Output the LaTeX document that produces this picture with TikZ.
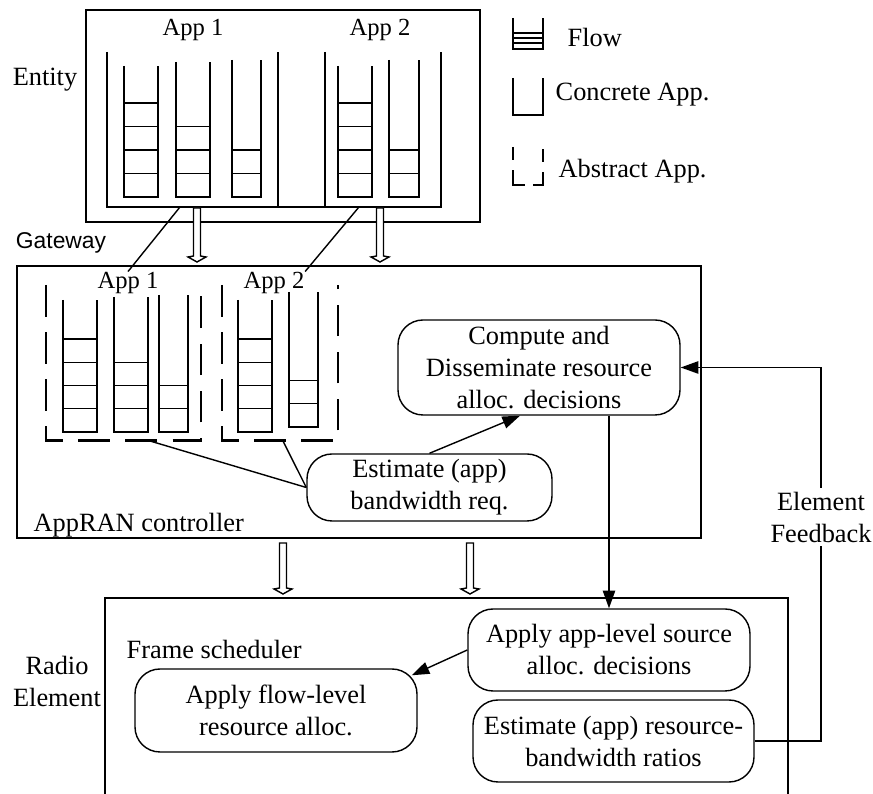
\documentclass[tikz,border=0pt]{standalone}
\usepackage{fontspec}
\setmainfont{Liberation Serif}
\newfontfamily\gwfont{Liberation Sans}
\usetikzlibrary{arrows.meta,calc}
\tikzstyle{box} = [draw, inner sep=0pt]
\tikzstyle{block} = [draw, rounded corners=0.5cm, align=center, inner sep=2pt]
\tikzstyle{tag} = [inner sep=0pt, align=center]
\tikzstyle{applabel} = [inner sep=0pt, font=\fontsize{14}{17}\selectfont]
\tikzstyle{diredge} = [draw, -{Triangle[length=10pt,width=7pt]}]
\tikzstyle{undirectededge} = [draw]
\tikzstyle{abstract} = [draw, line width=1.7pt, dash pattern=on 18pt off 8.8pt]
\tikzstyle{hollow} = [draw, fill=white]

\begin{document}
\begin{tikzpicture}[line width=0.8pt, font=\fontsize{15}{18.2}\selectfont]
    \useasboundingbox (0,0) rectangle (17.46,15.88);

    % Entity with its concrete apps
    \node[box, minimum width=7.88cm, minimum height=4.24cm] (entity) at (5.66,13.56) {};
    \node[tag] (entlabel) at (0.9,14.28) {Entity};
    \node[applabel] (eapp1) at (3.86,15.28) {App 1};
    \node[applabel] (eapp2) at (7.6,15.28) {App 2};
    \foreach \xl/\xr in {2.14/5.56, 6.5/8.82}
        \draw (\xl,14.84) -- (\xl,11.74) -- (\xr,11.74) -- (\xr,14.84);
    \draw (5.56,11.74) -- (6.5,11.74);
    \foreach \xl/\xr/\yt/\n in {2.48/3.16/14.56/4, 3.52/4.2/14.64/3, 4.64/5.22/14.68/2,
                               6.76/7.44/14.56/4, 7.78/8.38/14.68/2} {
        \draw (\xl,\yt) -- (\xl,11.94) -- (\xr,11.94) -- (\xr,\yt);
        \foreach \k in {1,...,\n}
            \draw (\xl,11.94+\k*0.47) -- (\xr,11.94+\k*0.47);
    }
    \coordinate (eout1) at (3.6,11.74);
    \coordinate (eout2) at (7.18,11.74);

    % Legend
    \draw (10.26,15.52) -- (10.26,14.9) -- (10.86,14.9) -- (10.86,15.52);
    \foreach \y in {15.02,15.12,15.22}
        \draw (10.26,\y) -- (10.86,\y);
    \node[tag, anchor=base west] (lflow) at (11.34,14.94) {Flow};
    \draw (10.26,14.32) -- (10.26,13.58) -- (10.86,13.58) -- (10.86,14.32);
    \node[tag, anchor=base west] (lconc) at (11.1,13.86) {Concrete App.};
    \draw[line width=1.5pt, dash pattern=on 7.4pt off 5.7pt on 15.4pt off 4.6pt on 13.1pt off 5.7pt on 7.4pt off 5pt]
        (10.26,12.94) -- (10.26,12.18) -- (10.86,12.18) -- (10.86,12.94);
    \node[tag, anchor=base west] (labs) at (11.16,12.32) {Abstract App.};

    % Gateway with the AppRAN controller
    \node[box, minimum width=13.68cm, minimum height=5.44cm] (gateway) at (7.18,7.84) {};
    \node[tag, font=\gwfont\fontsize{13}{16}\selectfont] (gwlabel) at (1.22,11.02) {Gateway};
    \node[tag, anchor=base west] (ctrl) at (0.66,5.24) {AppRAN controller};
    \node[applabel] (gapp1) at (2.56,10.22) {App 1};
    \node[applabel] (gapp2) at (5.48,10.22) {App 2};
    \foreach \xl/\xr in {0.92/4.02, 4.44/6.76}
        \path[abstract] (\xl,10.18) -- (\xl,7.06) -- (\xr,7.06) -- (\xr,10.18);
    \foreach \xl/\xr/\yb/\yt/\n in {1.26/1.94/7.24/9.88/4, 2.28/2.96/7.24/9.94/3, 3.18/3.76/7.24/9.98/2,
                                   4.76/5.44/7.24/9.88/4, 5.78/6.36/7.34/10.04/2} {
        \draw (\xl,\yt) -- (\xl,\yb) -- (\xr,\yb) -- (\xr,\yt);
        \foreach \k in {1,...,\n}
            \draw (\xl,\yb+\k*0.465) -- (\xr,\yb+\k*0.465);
    }
    \coordinate (gout1) at (3.0,7.06);
    \coordinate (gout2) at (5.66,7.06);

    \node[block, minimum width=5.64cm, minimum height=1.9cm] (cmp) at (10.78,8.53)
        {Compute and\\Disseminate resource\\alloc. decisions};
    \node[block, minimum width=4.9cm, minimum height=1.34cm] (estbw) at (8.59,6.13)
        {Estimate (app)\\bandwidth req.};

    % Radio element, open at the bottom
    \draw (2.1,0) |- (15.76,3.92) -- (15.76,0);
    \node[tag] (radio) at (1.14,2.26) {Radio\\Element};
    \node[tag, anchor=base west] (sched) at (2.52,2.7) {Frame scheduler};
    \node[block, minimum width=5.64cm, minimum height=1.66cm] (flowlvl) at (5.52,1.67)
        {Apply flow-level\\resource alloc.};
    \node[block, minimum width=5.64cm, minimum height=1.64cm] (applvl) at (12.18,2.88)
        {Apply app-level source\\alloc. decisions};
    \node[block, minimum width=5.62cm, minimum height=1.64cm] (ratio) at (12.27,1.06)
        {Estimate (app) resource-\\bandwidth ratios};

    % Hollow arrows between the layers
    \foreach \x/\yt/\yb in {3.94/11.72/10.64, 7.6/11.72/10.64, 5.66/5.02/4.0, 9.4/5.02/4.0}
        \draw[hollow] (\x-0.07,\yt) -- (\x-0.07,\yb+0.12) -- (\x-0.18,\yb+0.1) -- (\x,\yb)
            -- (\x+0.18,\yb+0.1) -- (\x+0.07,\yb+0.12) -- (\x+0.07,\yt) -- cycle;

    % Connect apps and blocks
    \path[undirectededge] (eout1) -- (gapp1.north);
    \path[undirectededge] (eout2) -- (gapp2.north east);
    \path[undirectededge] (gout1) -- (estbw.west);
    \path[undirectededge] (gout2) -- (estbw.west);
    \path[diredge] (estbw.north) -- ([xshift=-0.38cm]cmp.south);
    \path[diredge] (cmp.south -| applvl.north) -- (applvl.north);
    \path[diredge] (applvl.west) -- ([shift={(-0.12,-0.14)}]flowlvl.north east);

    % Element feedback loop
    \node[tag, fill=white, inner sep=2pt] (fb) at (16.42,5.54) {Element\\Feedback};
    \path[undirectededge] (ratio.east) -| (fb.south);
    \path[diredge] (fb.north) |- (cmp.east);
\end{tikzpicture}
\end{document}
